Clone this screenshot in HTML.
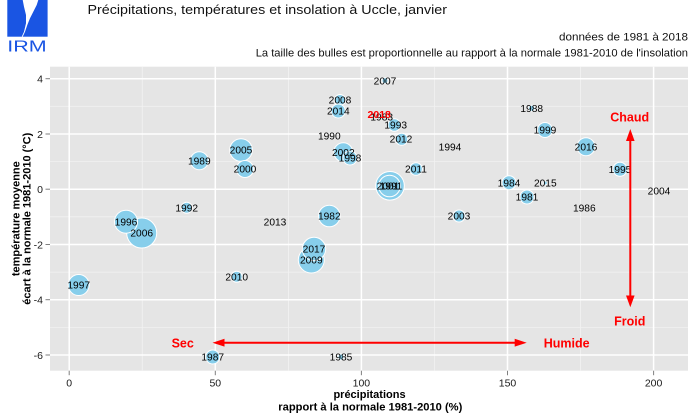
<!DOCTYPE html>
<html>
<head>
<meta charset="utf-8">
<style>
  html,body{margin:0;padding:0;background:#fff;}
  svg{display:block;}
  text{font-family:"Liberation Sans",Arial,sans-serif;}
</style>
</head>
<body>
<svg width="700" height="420" viewBox="0 0 700 420" xmlns="http://www.w3.org/2000/svg">
  <rect x="0" y="0" width="700" height="420" fill="#ffffff"/>

  <!-- Logo -->
  <rect x="7.3" y="0" width="40.3" height="36.7" fill="#1a55e3"/>
  <path d="M22.7,0 L24,6.7 L26,15 L26,23.3 L24,31.7 L21.7,36.7 L22.7,36.7 L25,31.7 L27.3,25 L30,18.3 L33.3,11.7 L36.7,5 L38.3,0 Z" fill="#ffffff"/>
  <text x="7.3" y="51.5" font-size="16" fill="#1a55e3" textLength="39.4" lengthAdjust="spacingAndGlyphs">IRM</text>

  <!-- Titles -->
  <text x="87.5" y="14" font-size="13.2" fill="#111" textLength="359.5" lengthAdjust="spacingAndGlyphs">Précipitations, températures et insolation à Uccle, janvier</text>
  <text x="688" y="40.3" font-size="11.2" fill="#111" text-anchor="end" textLength="129" lengthAdjust="spacingAndGlyphs">données de 1981 à 2018</text>
  <text x="688" y="56.7" font-size="11.2" fill="#111" text-anchor="end" textLength="432.3" lengthAdjust="spacingAndGlyphs">La taille des bulles est proportionnelle au rapport à la normale 1981-2010 de l'insolation</text>

  <!-- Panel -->
  <rect x="50" y="66.7" width="638" height="304" fill="#e5e5e5"/>
  <!-- minor grid -->
  <g stroke="#f2f2f2" stroke-width="0.8">
    <line x1="142.25" y1="66.7" x2="142.25" y2="370.7"/>
    <line x1="288.4" y1="66.7" x2="288.4" y2="370.7"/>
    <line x1="434.5" y1="66.7" x2="434.5" y2="370.7"/>
    <line x1="580.6" y1="66.7" x2="580.6" y2="370.7"/>
    <line x1="50" y1="106.3" x2="688" y2="106.3"/>
    <line x1="50" y1="161.6" x2="688" y2="161.6"/>
    <line x1="50" y1="216.8" x2="688" y2="216.8"/>
    <line x1="50" y1="272.1" x2="688" y2="272.1"/>
    <line x1="50" y1="327.4" x2="688" y2="327.4"/>
  </g>
  <!-- major grid -->
  <g stroke="#ffffff" stroke-width="1.5">
    <line x1="69.2" y1="66.7" x2="69.2" y2="370.7"/>
    <line x1="215.3" y1="66.7" x2="215.3" y2="370.7"/>
    <line x1="361.4" y1="66.7" x2="361.4" y2="370.7"/>
    <line x1="507.5" y1="66.7" x2="507.5" y2="370.7"/>
    <line x1="653.6" y1="66.7" x2="653.6" y2="370.7"/>
    <line x1="50" y1="78.7" x2="688" y2="78.7"/>
    <line x1="50" y1="134" x2="688" y2="134"/>
    <line x1="50" y1="189.2" x2="688" y2="189.2"/>
    <line x1="50" y1="244.5" x2="688" y2="244.5"/>
    <line x1="50" y1="299.7" x2="688" y2="299.7"/>
    <line x1="50" y1="355" x2="688" y2="355"/>
  </g>

  <!-- ticks -->
  <g stroke="#7f7f7f" stroke-width="1">
    <line x1="45.5" y1="78.7" x2="50" y2="78.7"/>
    <line x1="45.5" y1="134" x2="50" y2="134"/>
    <line x1="45.5" y1="189.2" x2="50" y2="189.2"/>
    <line x1="45.5" y1="244.5" x2="50" y2="244.5"/>
    <line x1="45.5" y1="299.7" x2="50" y2="299.7"/>
    <line x1="45.5" y1="355" x2="50" y2="355"/>
    <line x1="69.2" y1="370.7" x2="69.2" y2="375.2"/>
    <line x1="215.3" y1="370.7" x2="215.3" y2="375.2"/>
    <line x1="361.4" y1="370.7" x2="361.4" y2="375.2"/>
    <line x1="507.5" y1="370.7" x2="507.5" y2="375.2"/>
    <line x1="653.6" y1="370.7" x2="653.6" y2="375.2"/>
  </g>
  <g font-size="10.5" fill="#1a1a1a" text-anchor="end">
    <text x="43" y="82.5">4</text>
    <text x="43" y="137.8">2</text>
    <text x="43" y="193">0</text>
    <text x="43" y="248.3">-2</text>
    <text x="43" y="303.5">-4</text>
    <text x="43" y="358.8">-6</text>
  </g>
  <g font-size="10.5" fill="#1a1a1a" text-anchor="middle">
    <text x="69.2" y="386.5">0</text>
    <text x="215.3" y="386.5">50</text>
    <text x="361.4" y="386.5">100</text>
    <text x="507.5" y="386.5">150</text>
    <text x="653.6" y="386.5">200</text>
  </g>

  <!-- axis titles -->
  <g font-size="11" font-weight="bold" fill="#000" text-anchor="middle">
    <text x="369.5" y="398">précipitations</text>
    <text x="370.3" y="410.3" textLength="184" lengthAdjust="spacingAndGlyphs">rapport à la normale 1981-2010 (%)</text>
    <text transform="translate(19.5,218.7) rotate(-90)" x="0" y="0">température moyenne</text>
    <text transform="translate(30.5,218.7) rotate(-90)" x="0" y="0" textLength="172" lengthAdjust="spacingAndGlyphs">écart à la normale 1981-2010 (°C)</text>
  </g>

  <!-- bubbles -->
  <g fill="#87ceeb" stroke="#ffffff" stroke-width="1">
    <circle cx="390" cy="185.8" r="14.3"/>
    <circle cx="389.5" cy="186" r="10.8"/>
    <circle cx="141.7" cy="233" r="15"/>
    <circle cx="126" cy="221.7" r="11.5"/>
    <circle cx="78.7" cy="285" r="10.5"/>
    <circle cx="212.7" cy="357" r="7"/>
    <circle cx="199.3" cy="160.7" r="9"/>
    <circle cx="186.7" cy="207.7" r="5.5"/>
    <circle cx="241" cy="150" r="11.3"/>
    <circle cx="245" cy="169" r="8.5"/>
    <circle cx="236.7" cy="276.7" r="5.5"/>
    <circle cx="311.3" cy="260" r="13"/>
    <circle cx="314" cy="249" r="11.7"/>
    <circle cx="341" cy="357" r="3"/>
    <circle cx="329.3" cy="216" r="10.8"/>
    <circle cx="340" cy="100" r="5.5"/>
    <circle cx="338.3" cy="111" r="7"/>
    <circle cx="385" cy="80.7" r="3"/>
    <circle cx="343.3" cy="152.3" r="9.5"/>
    <circle cx="350" cy="158" r="7"/>
    <circle cx="394.3" cy="125" r="6.3"/>
    <circle cx="401.7" cy="139.3" r="6"/>
    <circle cx="416" cy="169" r="6.3"/>
    <circle cx="531.7" cy="108.3" r="3"/>
    <circle cx="545" cy="130" r="7.5"/>
    <circle cx="586" cy="146.7" r="9"/>
    <circle cx="620" cy="169.3" r="7"/>
    <circle cx="509" cy="182.7" r="7"/>
    <circle cx="545.3" cy="183" r="2"/>
    <circle cx="527" cy="197" r="7"/>
    <circle cx="459" cy="216" r="6"/>
  </g>

  <!-- labels -->
  <g font-size="10.2" fill="#000" text-anchor="middle">
    <text x="527" y="200.6">1981</text>
    <text x="329.3" y="219.6">1982</text>
    <text x="381.7" y="120.6">1983</text>
    <text x="509" y="186.3">1984</text>
    <text x="341" y="360.6">1985</text>
    <text x="584.3" y="211.3">1986</text>
    <text x="212.7" y="360.6">1987</text>
    <text x="531.7" y="111.9">1988</text>
    <text x="199.3" y="164.3">1989</text>
    <text x="329.3" y="139.6">1990</text>
    <text x="391" y="189.6">1991</text>
    <text x="186.7" y="211.3">1992</text>
    <text x="395.7" y="128.6">1993</text>
    <text x="450" y="150.6">1994</text>
    <text x="620" y="172.9">1995</text>
    <text x="126" y="225.3">1996</text>
    <text x="78.7" y="288.6">1997</text>
    <text x="350" y="161.6">1998</text>
    <text x="545" y="133.6">1999</text>
    <text x="245" y="172.6">2000</text>
    <text x="388" y="189.6">2001</text>
    <text x="343.3" y="155.9">2002</text>
    <text x="459" y="219.6">2003</text>
    <text x="659" y="194.6">2004</text>
    <text x="241" y="153.6">2005</text>
    <text x="141.7" y="236.6">2006</text>
    <text x="385" y="84.3">2007</text>
    <text x="340" y="103.6">2008</text>
    <text x="311.3" y="263.6">2009</text>
    <text x="236.7" y="280.3">2010</text>
    <text x="416" y="172.6">2011</text>
    <text x="401" y="142.6">2012</text>
    <text x="275" y="225.3">2013</text>
    <text x="338.3" y="114.6">2014</text>
    <text x="545.3" y="186.6">2015</text>
    <text x="586" y="150.3">2016</text>
    <text x="314" y="252.6">2017</text>
  </g>
  <text x="379.2" y="117.8" font-size="10.5" font-weight="bold" fill="#ff0000" text-anchor="middle">2018</text>

  <!-- arrows -->
  <g stroke="#ff0000" stroke-width="2" fill="none">
    <line x1="223" y1="342.7" x2="516" y2="342.7"/>
    <line x1="630.3" y1="140" x2="630.3" y2="297"/>
  </g>
  <g fill="#ff0000">
    <polygon points="212.5,342.7 224.5,338.8 224.5,346.6"/>
    <polygon points="526.7,342.7 514.7,338.8 514.7,346.6"/>
    <polygon points="630.3,129 626,141 634.6,141"/>
    <polygon points="630.3,307.3 626,295.5 634.6,295.5"/>
  </g>
  <g font-size="12.5" font-weight="bold" fill="#ff0000" text-anchor="middle">
    <text x="182.7" y="347.5">Sec</text>
    <text x="566.7" y="347.5">Humide</text>
    <text x="629.8" y="325.7">Froid</text>
    <text x="629.7" y="121.5">Chaud</text>
  </g>
</svg>
</body>
</html>
